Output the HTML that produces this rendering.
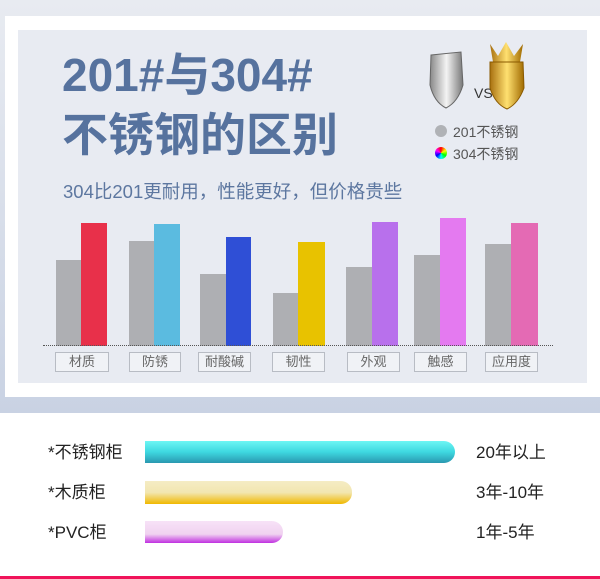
<!DOCTYPE html>
<html><head><meta charset="utf-8"><style>
*{margin:0;padding:0;box-sizing:border-box}
body{width:600px;height:579px;position:relative;overflow:hidden;background:#fff;font-family:"Liberation Sans","Noto Sans CJK SC",sans-serif}
.a{position:absolute}
.lab{position:absolute;top:352px;height:20px;border:1px solid #b8bcc4;background:#f0f2f6;color:#666;font-size:13px;line-height:18px;text-align:center}
.bar{position:absolute}
</style></head><body>
<div class="a" style="left:0;top:0;width:600px;height:413px;background:linear-gradient(#e8ebf1,#c9d2e3)"></div>
<div class="a" style="left:5px;top:16px;width:595px;height:381px;background:#fff"></div>
<div class="a" style="left:18px;top:30px;width:569px;height:353px;background:#e8ebf2"></div>
<div class="a" style="left:62px;top:45px;font-size:46px;font-weight:bold;color:#56729e;line-height:60px;white-space:nowrap">201#与304#<br>不锈钢的区别</div>
<div class="a" style="left:63px;top:178px;font-size:18.5px;color:#5d77a0;white-space:nowrap">304比201更耐用，性能更好，但价格贵些</div>
<svg class="a" style="left:428px;top:40px" width="102" height="72">
<defs><linearGradient id="s" x1="0" x2="1"><stop offset="0" stop-color="#888"/><stop offset=".5" stop-color="#f4f4f4"/><stop offset="1" stop-color="#777"/></linearGradient>
<linearGradient id="g" x1="0" x2="1"><stop offset="0" stop-color="#a87010"/><stop offset=".5" stop-color="#ffe070"/><stop offset="1" stop-color="#a06a00"/></linearGradient></defs>
<path d="M3 15 L33 12 L35 45 Q30 62 18 68 Q6 62 2 45Z" fill="url(#s)" stroke="#666"/>
<text x="46" y="58" font-size="14" fill="#333" font-family="Liberation Sans">VS</text>
<path d="M62 4 L70 16 L78 2 L86 16 L95 4 L92 22 L65 22Z" fill="url(#g)"/>
<path d="M62 22 L95 22 L96 48 Q90 64 79 69 Q67 64 62 48Z" fill="url(#g)" stroke="#8a5a00"/>
</svg>
<div class="a" style="left:435px;top:125px;width:12px;height:12px;border-radius:50%;background:#b0b2b6"></div>
<div class="a" style="left:435px;top:147px;width:12px;height:12px;border-radius:50%;background:conic-gradient(red,yellow,lime,cyan,blue,magenta,red)"></div>
<div class="a" style="left:453px;top:121px;font-size:14px;color:#555;line-height:22px">201不锈钢<br>304不锈钢</div>
<div class="bar" style="left:56px;top:260px;width:25px;height:86px;background:#aeafb3"></div>
<div class="bar" style="left:81px;top:223px;width:26px;height:123px;background:#e8304a"></div>
<div class="bar" style="left:129px;top:241px;width:25px;height:105px;background:#aeafb3"></div>
<div class="bar" style="left:154px;top:224px;width:26px;height:122px;background:#5bbbe0"></div>
<div class="bar" style="left:200px;top:274px;width:26px;height:72px;background:#aeafb3"></div>
<div class="bar" style="left:226px;top:237px;width:25px;height:109px;background:#2f4fd6"></div>
<div class="bar" style="left:273px;top:293px;width:25px;height:53px;background:#aeafb3"></div>
<div class="bar" style="left:298px;top:242px;width:27px;height:104px;background:#e8c200"></div>
<div class="bar" style="left:346px;top:267px;width:26px;height:79px;background:#aeafb3"></div>
<div class="bar" style="left:372px;top:222px;width:26px;height:124px;background:#b870ec"></div>
<div class="bar" style="left:414px;top:255px;width:26px;height:91px;background:#aeafb3"></div>
<div class="bar" style="left:440px;top:218px;width:26px;height:128px;background:#e47af0"></div>
<div class="bar" style="left:485px;top:244px;width:26px;height:102px;background:#aeafb3"></div>
<div class="bar" style="left:511px;top:223px;width:27px;height:123px;background:#e46ab4"></div>
<div class="a" style="left:43px;top:345px;width:510px;border-top:1.5px dotted #555"></div>
<div class="lab" style="left:55px;width:54px">材质</div>
<div class="lab" style="left:129px;width:52px">防锈</div>
<div class="lab" style="left:198px;width:53px">耐酸碱</div>
<div class="lab" style="left:272px;width:53px">韧性</div>
<div class="lab" style="left:347px;width:53px">外观</div>
<div class="lab" style="left:414px;width:53px">触感</div>
<div class="lab" style="left:485px;width:53px">应用度</div>
<div class="a" style="left:48px;top:442px;font-size:17px;color:#222;line-height:22px">*不锈钢柜</div>
<div class="a" style="left:48px;top:482px;font-size:17px;color:#222;line-height:22px">*木质柜</div>
<div class="a" style="left:48px;top:522px;font-size:17px;color:#222;line-height:22px">*PVC柜</div>
<div class="bar" style="left:145px;top:441px;width:310px;height:22px;border-radius:0 11px 11px 0;background:linear-gradient(#6ef6f4,#3ed8e0 50%,#2a98b0)"></div>
<div class="bar" style="left:145px;top:481px;width:207px;height:23px;border-radius:0 11px 11px 0;background:linear-gradient(#f5ecc4,#f2e6b0 50%,#f0b800)"></div>
<div class="bar" style="left:145px;top:521px;width:138px;height:22px;border-radius:0 11px 11px 0;background:linear-gradient(#f7e2f7,#f0d2f0 60%,#c030e0)"></div>
<div class="a" style="left:476px;top:442px;font-size:17px;color:#222;line-height:22px">20年以上</div>
<div class="a" style="left:476px;top:482px;font-size:17px;color:#222;line-height:22px">3年-10年</div>
<div class="a" style="left:476px;top:522px;font-size:17px;color:#222;line-height:22px">1年-5年</div>
<div class="a" style="left:0;top:576px;width:600px;height:3px;background:#f0135a"></div>
</body></html>
